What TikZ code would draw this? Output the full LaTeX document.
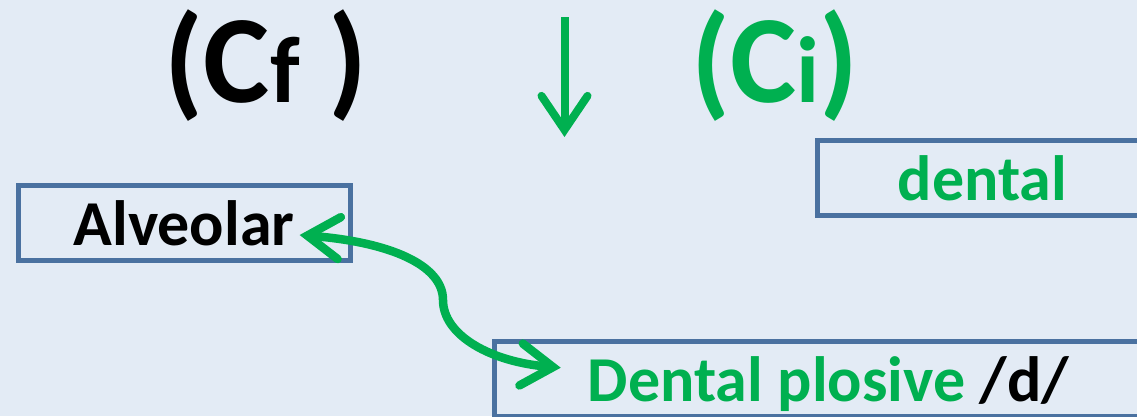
\documentclass[tikz,border=0pt]{standalone}
\usepackage{fontspec}
\setmainfont{Carlito}
\usetikzlibrary{arrows.meta}
\definecolor{bg}{HTML}{E3EBF5}
\definecolor{grn}{HTML}{00B050}
\definecolor{edge}{HTML}{4A71A0}
\tikzset{
  boxnode/.style={draw=edge, line width=5pt, inner sep=0pt, rectangle},
  lbl/.style={inner sep=0pt, anchor=base, font=\fontsize{64}{64}\selectfont\bfseries},
  title/.style={inner sep=0pt, anchor=base, font=\fontsize{125}{125}\selectfont\bfseries},
  conn/.style={draw=grn, line width=8.5pt, line cap=round,
    {Straight Barb[length=32pt, width=42pt, line cap=round, line join=miter]}-{Straight Barb[length=32pt, width=42pt, line cap=round, line join=miter]}},
  downarr/.style={draw=grn, line width=8pt,
    -{Straight Barb[length=34pt, width=46pt, line cap=round, line join=miter]}},
}
\newcommand{\smallsz}{\fontsize{94}{94}\selectfont}
\begin{document}
\begin{tikzpicture}[x=1pt,y=-1pt]
\useasboundingbox (0,0) rectangle (1137,416);
\fill[bg] (0,0) rectangle (1137,416);
\clip (0,0) rectangle (1137,416);
% titles
\node[title, text=black] (cf) at (266,102) {(C{\smallsz f} )};
\node[title, text=grn] (ci) at (775,102) {(C{\smallsz i})};
% down arrow
\coordinate (dtop) at (564.5,17);
\coordinate (dtip) at (564.5,137);
\draw[downarr] (dtop) -- (dtip);
% boxes
\node[boxnode, minimum width=332.5pt, minimum height=75pt] (alvbox) at (184.25,223) {};
\node[boxnode, minimum width=330pt, minimum height=75.5pt] (denbox) at (982,177.75) {};
\node[boxnode, minimum width=669pt, minimum height=75pt] (dpbox) at (828.5,379) {};
% texts
\node[lbl, text=black] (alvt) at (184,245) {Alveolar};
\node[lbl, text=grn] (dent) at (982.5,200.7) {dental};
\node[lbl] (dpt) at (828.5,401.7) {\textcolor{grn}{Dental plosive} \textcolor{black}{/d/}};
% connector
\draw[conn] ([xshift=5pt,yshift=10pt]alvt.base east) .. controls (390,242) and (443,265) .. (443,300)
  .. controls (443,335) and (490,362) .. ([xshift=-27pt,yshift=34pt]dpt.base west);
\end{tikzpicture}
\end{document}
